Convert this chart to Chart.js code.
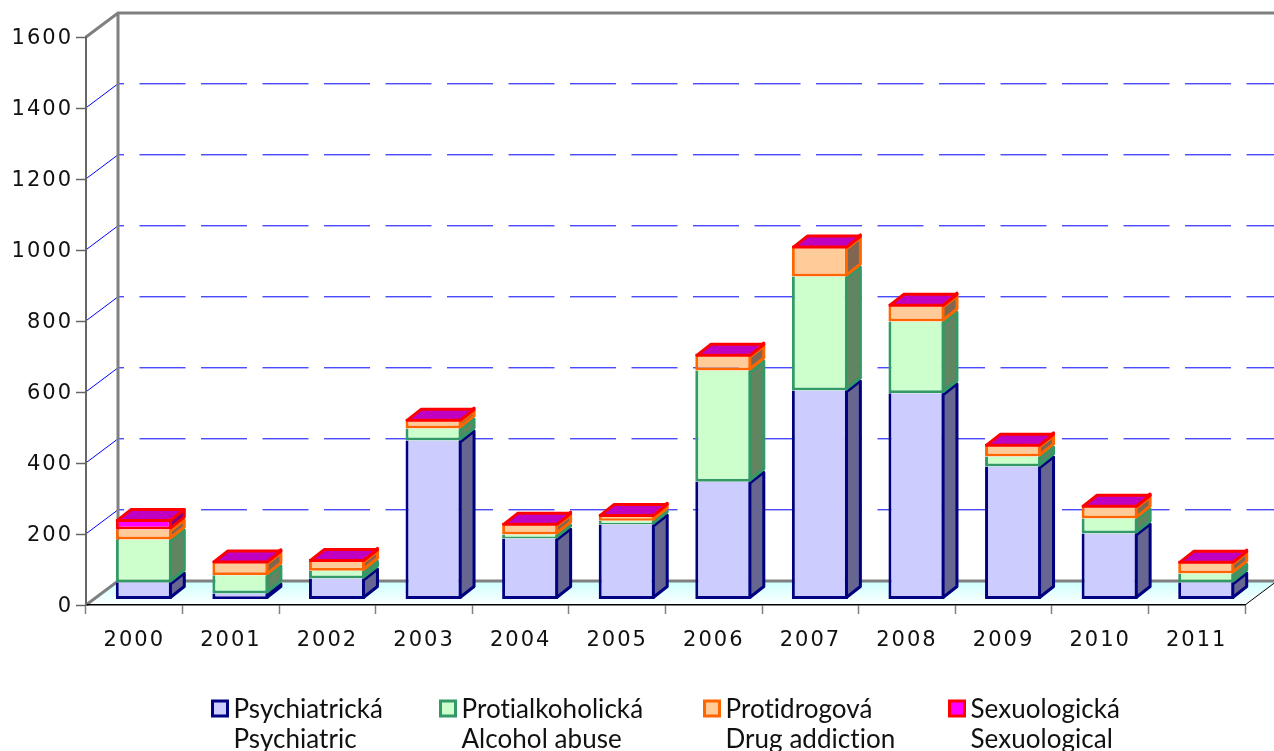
<!DOCTYPE html>
<html>
<head>
<meta charset="utf-8">
<style>
html,body{margin:0;padding:0;background:#fff;overflow:hidden}
canvas{display:block}
</style>
<script src="https://cdn.jsdelivr.net/npm/chart.js@4"></script>
</head>
<body>
<canvas id="myChart" width="1274" height="751"></canvas>
<script>
const years = ['2000','2001','2002','2003','2004','2005','2006','2007','2008','2009','2010','2011'];
const psychiatric = [48,17,59,448,172,211,332,589,581,375,186,48];
const alcohol = [121,51,22,34,11,11,313,321,202,28,42,25];
const drug = [28,37,28,22,28,14,42,82,45,31,34,31];
const sexual = [30,5,5,5,5,5,5,5,5,5,5,5];
const legendCz = ['Psychiatrická','Protialkoholická','Protidrogová','Sexuologická'];
const legendEn = ['Psychiatric','Alcohol abuse','Drug addiction','Sexuological'];

const wallDx = 32, wallDy = -24;     // depth of back wall
const barDx = 9.5, barDy = -5.5;     // bars stand a bit inside the floor
const depthX = 14, depthY = -11;     // depth of the bars themselves
const lw = 3;

const sideColors = ['#666690','#608560','#806650','#800080'];
const legendX = [212.5,440.5,704.5,949.5];

// floor, back wall and blue grid
const wallPlugin = {
    id:'wall',
    beforeDraw(chart){
        const ctx = chart.ctx, a = chart.chartArea, y = chart.scales.y;
        ctx.letterSpacing = '2px';  // wide digits on the axes

        ctx.save();
        const g = ctx.createLinearGradient(0,a.bottom+wallDy,0,a.bottom);
        g.addColorStop(0,'#ccffff');
        g.addColorStop(1,'#ffffff');
        ctx.fillStyle = g;
        ctx.beginPath();
        ctx.moveTo(a.left,a.bottom);
        ctx.lineTo(a.left+wallDx,a.bottom+wallDy);
        ctx.lineTo(a.right+wallDx,a.bottom+wallDy);
        ctx.lineTo(a.right,a.bottom);
        ctx.closePath();
        ctx.fill();

        // grid lines
        ctx.strokeStyle = '#0000ff';
        ctx.lineWidth = 1;
        y.ticks.forEach(t=>{
            if(t.value===0 || t.value===y.max) return;
            const py = y.getPixelForValue(t.value) - 0.2;
            ctx.setLineDash([]);
            ctx.beginPath();
            ctx.moveTo(a.left,py);
            ctx.lineTo(a.left+wallDx,py+wallDy);
            ctx.stroke();
            ctx.setLineDash([46,15.5]);
            ctx.lineDashOffset = 40;
            ctx.beginPath();
            ctx.moveTo(a.left+wallDx,py+wallDy);
            ctx.lineTo(a.right+wallDx,py+wallDy);
            ctx.stroke();
        });
        ctx.setLineDash([]);

        // thick grey frame
        ctx.strokeStyle = '#808080';
        ctx.lineWidth = 3;
        ctx.beginPath();
        ctx.moveTo(a.left,a.top);
        ctx.lineTo(a.left+wallDx,a.top+wallDy);
        ctx.lineTo(a.right+wallDx,a.top+wallDy);
        ctx.moveTo(a.left+wallDx,a.top+wallDy);
        ctx.lineTo(a.left+wallDx,a.bottom+wallDy);
        ctx.moveTo(a.left,a.bottom);
        ctx.lineTo(a.left+wallDx,a.bottom+wallDy);
        ctx.lineTo(a.right+wallDx,a.bottom+wallDy);
        ctx.stroke();

        ctx.strokeStyle = '#000000';
        ctx.lineWidth = 1;
        ctx.beginPath();
        ctx.moveTo(a.right,a.bottom);
        ctx.lineTo(a.right+wallDx,a.bottom+wallDy);
        ctx.stroke();
        ctx.restore();
    },
    beforeDatasetsDraw(chart){
        const ctx = chart.ctx;
        ctx.save();
        ctx.translate(barDx,barDy);
        ctx.lineJoin = 'round';
        ctx.lineWidth = lw;
        years.forEach((yr,i)=>{
            chart.data.datasets.forEach((ds,d)=>{
                const b = chart.getDatasetMeta(d).data[i].getProps(['x','y','base','width'],true);
                const r = b.x + b.width/2 - lw/2;
                ctx.fillStyle = sideColors[d];
                ctx.strokeStyle = ds.borderColor;
                ctx.beginPath();
                ctx.moveTo(r,b.base-lw/2);
                ctx.lineTo(r+depthX,b.base-lw/2+depthY);
                ctx.lineTo(r+depthX,b.y+lw/2+depthY);
                ctx.lineTo(r,b.y+lw/2);
                ctx.closePath();
                ctx.fill();
                ctx.stroke();
            });
        });
    },
    afterDatasetsDraw(chart){
        const ctx = chart.ctx;
        // top faces go over the finished fronts, still shifted
        const last = chart.data.datasets.length-1;
        ctx.lineWidth = lw;
        years.forEach((yr,i)=>{
            const b = chart.getDatasetMeta(last).data[i].getProps(['x','y','width'],true);
            const l = b.x - b.width/2 + lw/2, r = b.x + b.width/2 - lw/2, t = b.y + lw/2;
            ctx.fillStyle = '#c000c0';
            ctx.strokeStyle = '#ff0000';
            ctx.beginPath();
            ctx.moveTo(l,t);
            ctx.lineTo(l+depthX,t+depthY);
            ctx.lineTo(r+depthX,t+depthY);
            ctx.lineTo(r,t);
            ctx.closePath();
            ctx.fill();
            ctx.stroke();
        });
        ctx.restore();
    },
    afterDraw(chart){
        // two line legend, the built in one can't space these like the original
        const ctx = chart.ctx;
        ctx.save();
        ctx.letterSpacing = '0.05px';  // also stops the "ti" ligature
        ctx.font = '26px Lato, sans-serif';
        ctx.textBaseline = 'alphabetic';
        ctx.textAlign = 'left';
        chart.data.datasets.forEach((ds,d)=>{
            const x = legendX[d];
            ctx.fillStyle = ds.backgroundColor;
            ctx.strokeStyle = ds.borderColor;
            ctx.lineWidth = lw;
            ctx.fillRect(x,701,15,15);
            ctx.strokeRect(x,701,15,15);
            ctx.fillStyle = '#111';
            ctx.fillText(legendCz[d],x+21,718);
            ctx.fillText(legendEn[d],x+21,748);
        });
        ctx.restore();
    }
};

function dataset(label,data,fill,line){
    return {label:label,data:data,backgroundColor:fill,borderColor:line,borderWidth:lw,borderSkipped:'end',clip:false};
}

new Chart(document.getElementById('myChart').getContext('2d'),{
    type:'bar',
    data:{
        labels:years,
        datasets:[
            dataset(legendCz[0],psychiatric,'#ccccff','#000080'),
            dataset(legendCz[1],alcohol,'#ccffcc','#339966'),
            dataset(legendCz[2],drug,'#ffcc99','#ff6600'),
            dataset(legendCz[3],sexual,'#ff00ff','#ff0000')
        ]
    },
    options:{
        responsive:false,
        animation:false,
        barPercentage:0.58,
        categoryPercentage:1,
        layout:{padding:{top:37,right:29,left:0,bottom:0}},
        plugins:{
            tooltip:{enabled:false},
            legend:{display:false}
        },
        scales:{
            x:{
                stacked:true,
                afterFit(s){s.height=146},
                border:{color:'#000',width:1.5},
                grid:{drawOnChartArea:false,tickLength:9,tickColor:'#808080',tickWidth:1.5},
                ticks:{color:'#111',maxRotation:0,padding:14,font:{family:'"DejaVu Sans"',size:21}}
            },
            y:{
                stacked:true,
                min:0,max:1600,
                afterFit(s){s.width=86},
                border:{color:'#666',width:2},
                grid:{drawOnChartArea:false,tickLength:10,tickColor:'#666',tickWidth:1.5},
                ticks:{stepSize:200,color:'#111',padding:3,labelOffset:2,font:{family:'"DejaVu Sans"',size:21},callback:v=>String(v)}
            }
        }
    },
    plugins:[wallPlugin]
});
</script>
</body>
</html>
